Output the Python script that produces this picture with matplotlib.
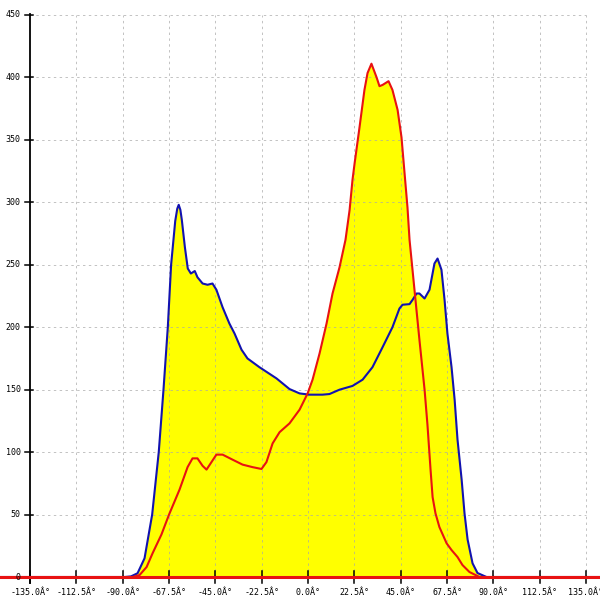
import matplotlib
matplotlib.use("Agg")
import matplotlib.pyplot as plt

# ---- data ----
x_ticks = [-135.0, -112.5, -90.0, -67.5, -45.0, -22.5, 0.0, 22.5, 45.0, 67.5, 90.0, 112.5, 135.0]
y_ticks = [0, 50, 100, 150, 200, 250, 300, 350, 400, 450]
x_tick_labels = ["%.1f\u00c2\u00b0" % v for v in x_ticks]
y_tick_labels = [str(v) for v in y_ticks]

blue_deg = [-150, -89.1, -86.0, -82.8, -79.4, -75.7, -72.5, -70.2, -68.1, -66.5, -64.5, -63.5, -62.8,
            -62.0, -61.3, -59.8, -58.4, -56.9, -55.0, -53.7, -51.2, -48.8, -46.4, -44.5, -41.5,
            -38.2, -35.7, -32.3, -29.4, -23.6, -15.3, -9.0, -4.1, 0.7, 7.0, 10.4, 15.3,
            21.6, 26.5, 31.3, 36.2, 41.0, 44.4, 45.9, 49.3, 50.8, 52.7, 54.1, 56.6, 59.0,
            61.4, 62.9, 64.8, 66.3, 67.7, 69.7, 71.2, 72.6, 74.6, 76.0, 77.5, 79.9, 82.3,
            86.7, 142]
blue_val = [0, 0, 0.5, 3, 15, 50, 100, 150, 200, 250, 285, 295, 298,
            294, 286, 264, 247, 243, 245, 240, 235, 234, 235, 230, 216,
            203, 195, 182, 175, 168, 159, 150.5, 147, 146, 146, 146.5, 150,
            153, 158, 168, 184, 200, 215, 218, 218.5, 222, 227, 227, 223, 230,
            251, 255, 246, 222, 195, 168, 142, 110, 78, 51, 30, 11, 3.2,
            0, 0]

red_deg = [-150, -85.2, -81.8, -78.4, -75.5, -71.2, -67.5, -62.4, -58.5, -56.1, -53.7, -51.2,
           -49.3, -46.9, -44.5, -41.5, -36.7, -31.8, -27.0, -22.6, -20.2, -17.2, -13.8,
           -9.0, -4.1, -0.2, 2.2, 5.6, 9.0, 11.9, 15.3, 18.2, 20.2, 21.6, 22.6, 25.0,
           27.4, 28.9, 30.8, 33.3, 34.7, 36.2, 39.1, 41.0, 43.5, 45.4, 46.9, 48.3, 49.3,
           51.7, 54.1, 56.6, 58.0, 59.5, 60.5, 61.9, 63.8, 67.3, 69.7, 72.6, 75.0, 78.4,
           83.3, 142]
red_val = [0, 0, 1.6, 8, 19, 34, 50, 70, 88, 95, 95, 89,
           86, 92, 98, 98, 94, 90, 88, 86.5, 92, 107, 116,
           123, 134, 147, 158, 179, 203, 227, 248, 270, 294, 318, 331, 360,
           390, 403.5, 411, 400, 393, 394, 397, 390, 374, 352, 323, 296, 270,
           230, 190, 150, 122, 86, 64, 51, 40, 27, 21.6, 16, 9.6, 4,
           0, 0]

# ---- figure ----
fig = plt.figure(figsize=(6, 6), dpi=100)
ax = fig.add_axes([0, 0, 1, 1])
ax.set_xlim(-149.6, 141.8)
ax.set_ylim(-18.4, 462)
ax.axis("off")

xmin_axis, xmax_axis = x_ticks[0], x_ticks[-1]
ymin_axis, ymax_axis = y_ticks[0], y_ticks[-1]

# fills
ax.fill_between(blue_deg, blue_val, 0, color="#ffff00", lw=0, zorder=1)
ax.fill_between(red_deg, red_val, 0, color="#ffff00", lw=0, zorder=1)

# grid
grid_kw = dict(color="#a8a8a8", lw=0.7, ls=(0, (2.5, 3.5)), alpha=0.7, zorder=2)
for v in y_ticks[1:]:
    ax.plot([xmin_axis, xmax_axis], [v, v], **grid_kw)
for v in x_ticks[1:]:
    ax.plot([v, v], [ymin_axis, ymax_axis], **grid_kw)

# axes lines
ax.plot([xmin_axis, xmin_axis], [-5, ymax_axis + 1], color="black", lw=1.3, zorder=3)
ax.plot([xmin_axis, xmax_axis], [0, 0], color="black", lw=1.3, zorder=3)
for v in y_ticks:
    ax.plot([xmin_axis - 2.4, xmin_axis + 1.2], [v, v], color="black", lw=1.1, zorder=3)
for v in x_ticks:
    ax.plot([v, v], [-4.5, 4.5], color="black", lw=1.1, zorder=3)

# curves
ax.plot(blue_deg, blue_val, color="#1212b0", lw=1.5, zorder=4, solid_joinstyle="round")
ax.plot(red_deg, red_val, color="#e81212", lw=1.5, zorder=5, solid_joinstyle="round")
ax.plot([-150, 142], [0, 0], color="#e81212", lw=2.2, zorder=5)

# labels
for v, lab in zip(x_ticks, x_tick_labels):
    ax.text(v, -12.0, lab, ha="center", va="center", fontsize=6,
            family="DejaVu Sans Mono", color="black", zorder=6)
for v, lab in zip(y_ticks, y_tick_labels):
    ax.text(xmin_axis - 4.6, v, lab, ha="right", va="center", fontsize=6,
            family="DejaVu Sans Mono", color="black", zorder=6)

fig.savefig("out.png", dpi=100, facecolor="white")
